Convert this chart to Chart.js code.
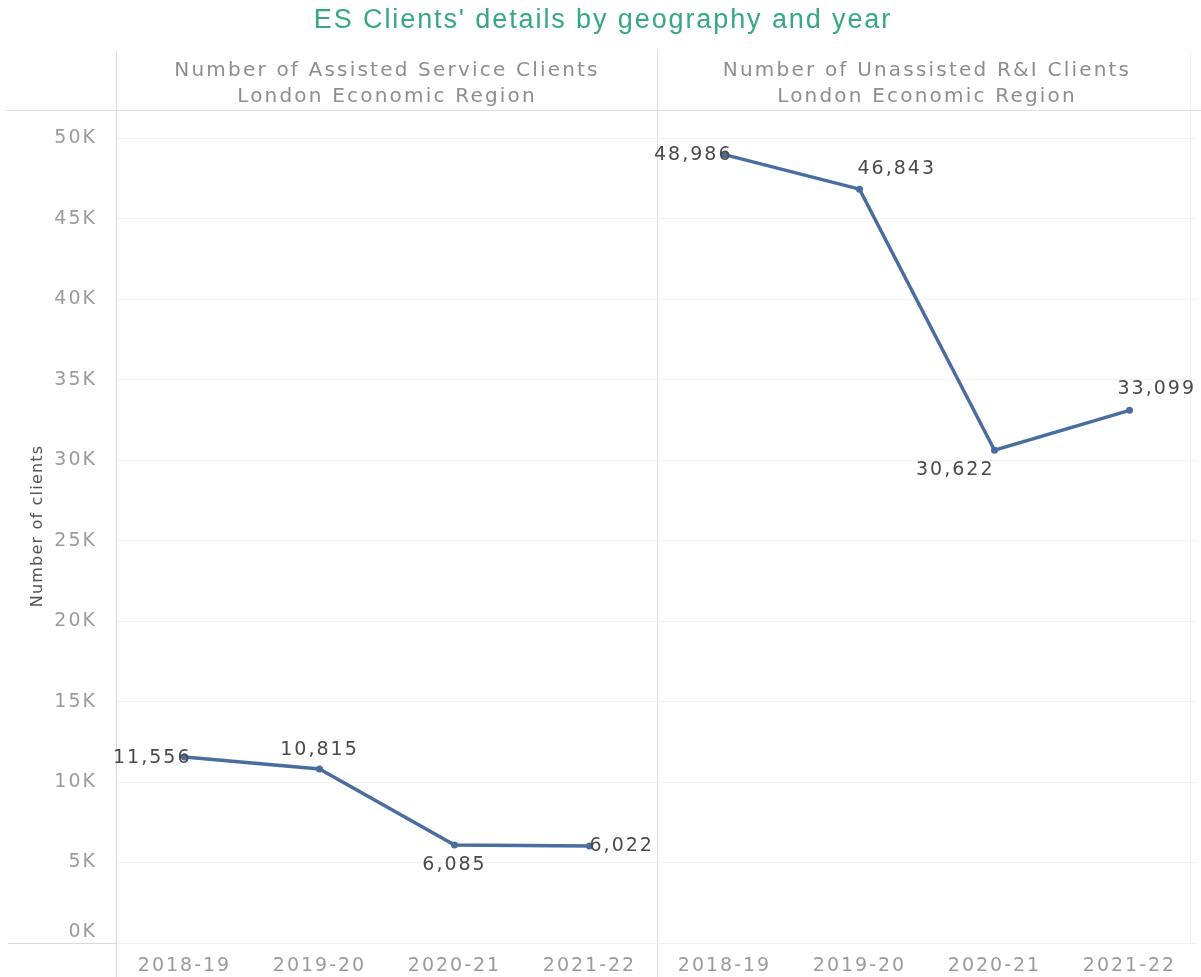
<!DOCTYPE html>
<html>
<head>
<meta charset="utf-8">
<title>ES Clients' details by geography and year</title>
<script src="https://cdn.jsdelivr.net/npm/chart.js@4"></script>
<style>
  html, body { margin: 0; padding: 0; background: #fff; }
  #wrap { width: 1201px; height: 977px; }
</style>
</head>
<body>
<div id="wrap"><canvas id="clients-chart" width="1201" height="977"></canvas></div>
<script>
// Years shown in each panel
const years = ['2018-19', '2019-20', '2020-21', '2021-22'];

// Panel headers (two lines each)
const assistedHeader = ['Number of Assisted Service Clients', 'London Economic Region'];
const unassistedHeader = ['Number of Unassisted R&I Clients', 'London Economic Region'];

// Client counts per year
const assistedClients = [11556, 10815, 6085, 6022];
const unassistedClients = [48986, 46843, 30622, 33099];

// Value axis ticks
const yTickValues = [0, 5000, 10000, 15000, 20000, 25000, 30000, 35000, 40000, 45000, 50000];

const TITLE = "ES Clients' details by geography and year";
const Y_TITLE = 'Number of clients';

const LINE_COLOR = '#4a6d9f';
const TEXT_FONT = '"DejaVu Sans", "Open Sans", sans-serif';

// Where each value label sits relative to its point
const labelPlacement = [
  [
    { dx: 7, dy: 1, align: 'right' },
    { dx: 0, dy: -19, align: 'center' },
    { dx: 0, dy: 20, align: 'center' },
    { dx: 0, dy: 0, align: 'left' }
  ],
  [
    { dx: 8, dy: 0, align: 'right' },
    { dx: -2, dy: -20, align: 'left' },
    { dx: 0, dy: 20, align: 'right' },
    { dx: -12, dy: -21, align: 'left' }
  ]
];

// one x category per panel/year, left panel first
const categories = years.concat(years);
const blanks = years.map(() => null);

const fmt = v => v.toLocaleString('en-US');

// Frame lines, headers, axis labels and value labels
const panelFrame = {
  id: 'panelFrame',
  beforeDraw(chart) {
    const { ctx, chartArea, scales } = chart;
    const divider = (scales.x.getPixelForValue(3) + scales.x.getPixelForValue(4)) / 2;
    ctx.save();
    ctx.lineWidth = 1;
    ctx.strokeStyle = '#e0e0e0';
    ctx.beginPath();
    ctx.moveTo(5, 110.5);
    ctx.lineTo(1201, 110.5);
    ctx.stroke();

    ctx.strokeStyle = '#d9d9d9';
    ctx.beginPath();
    ctx.moveTo(8, Math.round(chartArea.bottom) + 0.5);
    ctx.lineTo(1191, Math.round(chartArea.bottom) + 0.5);
    ctx.stroke();

    ctx.strokeStyle = '#dcdcdc';
    ctx.beginPath();
    ctx.moveTo(Math.round(chartArea.left) - 0.5, 50);
    ctx.lineTo(Math.round(chartArea.left) - 0.5, 977);
    ctx.moveTo(Math.round(divider) + 0.5, 50);
    ctx.lineTo(Math.round(divider) + 0.5, 977);
    ctx.stroke();

    ctx.strokeStyle = '#f2f2f2';
    ctx.beginPath();
    ctx.moveTo(1190.5, 50);
    ctx.lineTo(1190.5, chartArea.bottom);
    ctx.stroke();
    ctx.restore();

    // spacing for the library-drawn x tick labels
    ctx.letterSpacing = '2px';
  },
  afterDraw(chart) {
    const { ctx, chartArea, scales } = chart;
    const divider = (scales.x.getPixelForValue(3) + scales.x.getPixelForValue(4)) / 2;

    ctx.save();
    // title
    ctx.letterSpacing = '1.9px';
    ctx.font = '27px "Liberation Sans", Arial, sans-serif';
    ctx.fillStyle = '#36a882';
    ctx.textAlign = 'center';
    ctx.textBaseline = 'middle';
    ctx.fillText(TITLE, 603, 21);

    // panel headers
    ctx.letterSpacing = '2.2px';
    ctx.font = '20px ' + TEXT_FONT;
    ctx.fillStyle = '#8e8e8e';
    const leftMid = (chartArea.left + divider) / 2;
    const rightMid = (divider + chartArea.right) / 2;
    [[assistedHeader, leftMid], [unassistedHeader, rightMid]].forEach(([lines, cx]) => {
      ctx.fillText(lines[0], cx, 71);
      ctx.fillText(lines[1], cx, 97);
    });

    // y tick labels
    ctx.letterSpacing = '2px';
    ctx.font = '19px ' + TEXT_FONT;
    ctx.fillStyle = '#9b9b9b';
    ctx.textAlign = 'right';
    scales.y.ticks.forEach(t => {
      let y = scales.y.getPixelForValue(t.value);
      if (t.value === 0) y -= 11;
      ctx.fillText(t.value / 1000 + 'K', chartArea.left - 20, y);
    });

    // y axis title
    ctx.save();
    ctx.translate(38, 526);
    ctx.rotate(-Math.PI / 2);
    ctx.letterSpacing = '1.2px';
    ctx.font = '16px ' + TEXT_FONT;
    ctx.fillStyle = '#555555';
    ctx.textAlign = 'center';
    ctx.fillText(Y_TITLE, 0, 0);
    ctx.restore();

    // value labels
    ctx.letterSpacing = '2px';
    ctx.font = '19px ' + TEXT_FONT;
    ctx.fillStyle = '#4a4a4a';
    chart.data.datasets.forEach((ds, di) => {
      const meta = chart.getDatasetMeta(di);
      let k = 0;
      ds.data.forEach((v, i) => {
        if (v === null) return;
        const pt = meta.data[i];
        const p = labelPlacement[di][k++];
        ctx.textAlign = p.align;
        ctx.fillText(fmt(v), pt.x + p.dx, pt.y + p.dy);
      });
    });
    ctx.restore();
    ctx.letterSpacing = '0px';
  }
};

const ctx = document.getElementById('clients-chart').getContext('2d');
new Chart(ctx, {
  type: 'line',
  data: {
    labels: categories,
    datasets: [
      {
        label: assistedHeader[0],
        data: assistedClients.concat(blanks)
      },
      {
        label: unassistedHeader[0],
        data: blanks.concat(unassistedClients)
      }
    ].map(ds => Object.assign(ds, {
      borderColor: LINE_COLOR,
      backgroundColor: LINE_COLOR,
      borderWidth: 3.5,
      pointRadius: 3.5,
      pointBorderWidth: 0,
      pointBackgroundColor: LINE_COLOR,
      spanGaps: false,
      tension: 0
    }))
  },
  options: {
    responsive: false,
    animation: false,
    layout: { padding: { top: 111, right: 1, left: 0, bottom: 0 } },
    plugins: {
      legend: { display: false },
      title: { display: false },
      tooltip: { enabled: false }
    },
    scales: {
      x: {
        offset: true,
        grid: { display: false, drawTicks: false },
        border: { display: false },
        ticks: {
          color: '#9b9b9b',
          font: { family: TEXT_FONT, size: 19, lineHeight: 1 },
          padding: 14,
          maxRotation: 0,
          autoSkip: false
        },
        afterFit: s => { s.height = 34; }
      },
      y: {
        min: 0,
        max: 51700,
        afterBuildTicks: s => { s.ticks = yTickValues.map(v => ({ value: v })); },
        grid: { color: '#f2f2f2', drawTicks: false },
        border: { display: false },
        ticks: { display: false },
        afterFit: s => { s.width = 117; }
      }
    }
  },
  plugins: [panelFrame]
});
</script>
</body>
</html>
